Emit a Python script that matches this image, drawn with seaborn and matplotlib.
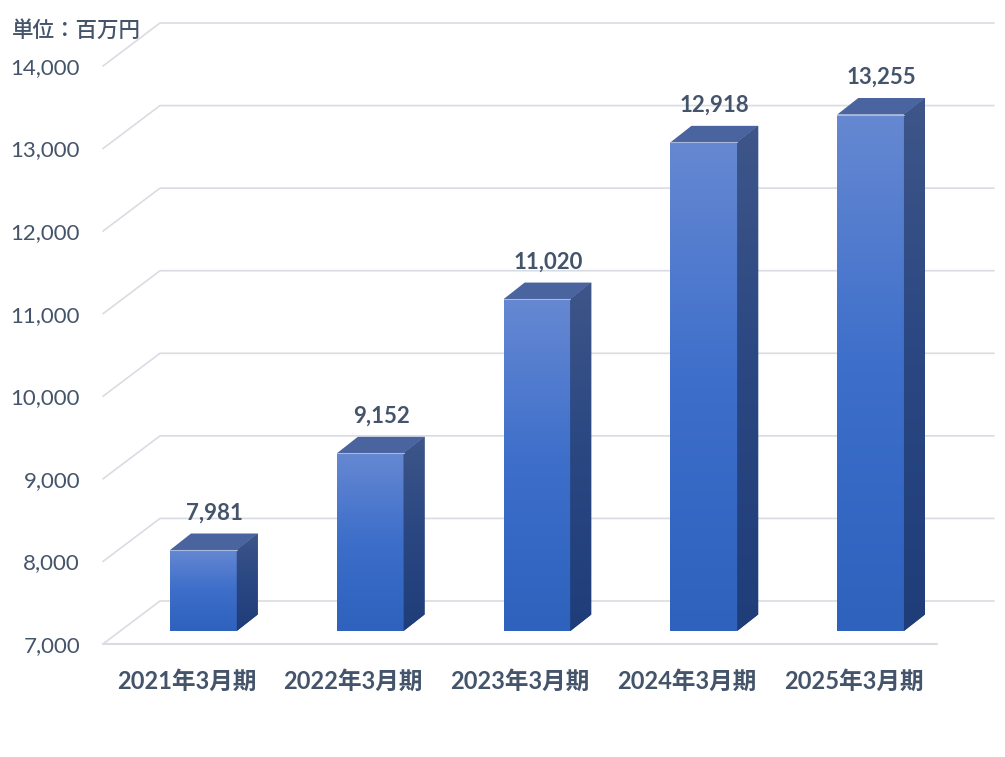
import numpy as np
import pandas as pd
import matplotlib
matplotlib.use("Agg")
import matplotlib.pyplot as plt
import matplotlib.transforms as mtransforms
from matplotlib.colors import LinearSegmentedColormap
from matplotlib.patches import Polygon
import seaborn as sns

# dati (milioni di yen)
periods = ["2021年3月期", "2022年3月期", "2023年3月期", "2024年3月期", "2025年3月期"]
sales = [7981, 9152, 11020, 12918, 13255]
y_ticks = [7000, 8000, 9000, 10000, 11000, 12000, 13000, 14000]
unit_label = "単位：百万円"

BASE = 7000
TEXT = "#44546A"
GRID = "#D9DCE3"

sns.set_theme(style="white")
plt.rcParams['font.family'] = ['Lato', 'Noto Sans CJK JP', 'DejaVu Sans']

fig = plt.figure(figsize=(10.05, 7.57), dpi=100)
ax = fig.add_axes([103 / 1005, 113 / 757, 834 / 1005, 578 / 757])

df = pd.DataFrame({"period": periods, "sales": sales})
sns.barplot(data=df, x="period", y="sales", width=0.4, color="#3A6DC8",
            errorbar=None, ax=ax, zorder=3)
ax.set_xlim(-0.5, len(periods) - 0.5)
ax.set_ylim(y_ticks[0], y_ticks[-1])

# pixel -> unita' dati
pos = ax.get_position()
w_px = pos.width * fig.get_figwidth() * fig.dpi
h_px = pos.height * fig.get_figheight() * fig.dpi
def px2data(dx, dy):
    return dx * (ax.get_xlim()[1] - ax.get_xlim()[0]) / w_px, dy * (ax.get_ylim()[1] - ax.get_ylim()[0]) / h_px

# piano frontale delle barre (spostato in profondita')
T1 = ax.transData + mtransforms.ScaledTranslation(17 / fig.dpi, 13 / fig.dpi, fig.dpi_scale_trans)
ddx, ddy = px2data(21, 16.5)
Wx, Wy = px2data(57, 43)

front_cmap = LinearSegmentedColormap.from_list("front", ["#6688D2", "#3C6ECA", "#2E62BD"])
side_cmap = LinearSegmentedColormap.from_list("side", ["#3E5689", "#2A4782", "#1F3D79"])
grad = np.linspace(0, 1, 256).reshape(-1, 1)

bars = list(ax.patches)
for p, v in zip(bars, sales):
    x0, w = p.get_x(), p.get_width()
    p.set_y(BASE)
    p.set_height(v - BASE)
    p.set_transform(T1)
    p.set_edgecolor("none")
    im = ax.imshow(grad, cmap=front_cmap, extent=[x0, x0 + w, BASE, v], aspect='auto',
                   transform=T1, zorder=3.1, interpolation='bilinear')
    im.set_clip_path(p)
    ax.plot([x0, x0 + w], [v, v], transform=T1, color="#A8B8DE", lw=0.8, zorder=3.3)

    top = Polygon([(x0, v), (x0 + w, v), (x0 + w + ddx, v + ddy), (x0 + ddx, v + ddy)],
                  closed=True, facecolor="#4A64A0", edgecolor="none", transform=T1, zorder=3.2)
    ax.add_patch(top)
    side = Polygon([(x0 + w, BASE), (x0 + w + ddx, BASE + ddy), (x0 + w + ddx, v + ddy), (x0 + w, v)],
                   closed=True, facecolor="#2A4782", edgecolor="none", transform=T1, zorder=3.2)
    ax.add_patch(side)
    ims = ax.imshow(grad, cmap=side_cmap, extent=[x0 + w, x0 + w + ddx, BASE, v + ddy], aspect='auto',
                    transform=T1, zorder=3.25, interpolation='bilinear')
    ims.set_clip_path(side)

    ax.annotate(f"{v:,}", xy=(x0 + w / 2, v), xycoords=T1, xytext=(11, 37),
                textcoords='offset pixels', ha='center', va='center',
                fontsize=16, fontweight='bold', color=TEXT, annotation_clip=False)

# griglia 3D: parete di fondo + pavimento
x_lo, x_hi = ax.get_xlim()
for t in y_ticks:
    ax.plot([x_lo, x_lo + Wx, x_hi + Wx], [t, t + Wy, t + Wy], color=GRID, lw=1.2,
            clip_on=False, zorder=1)
ax.plot([x_lo, x_hi], [BASE, BASE], color=GRID, lw=1.5, clip_on=False, zorder=1)

ax.set_xlim(x_lo, x_hi)
ax.set_ylim(y_ticks[0], y_ticks[-1])
ax.set_yticks(y_ticks)
ax.set_yticklabels([f"{t:,}" for t in y_ticks], fontsize=16, color=TEXT)
ax.set_xticks(range(len(periods)))
ax.set_xticklabels(periods, fontsize=17, fontweight='bold', color=TEXT)
ax.tick_params(axis='y', length=0, pad=16.5)
ax.tick_params(axis='x', length=0, pad=19)
ax.set_xlabel("")
ax.set_ylabel("")
sns.despine(ax=ax, left=True, bottom=True)

fig.text(12 / 1005, 1 - 30 / 757, unit_label, ha='left', va='center', fontsize=15.5,
         fontweight='medium', color=TEXT)

fig.savefig("out.png", dpi=100)
